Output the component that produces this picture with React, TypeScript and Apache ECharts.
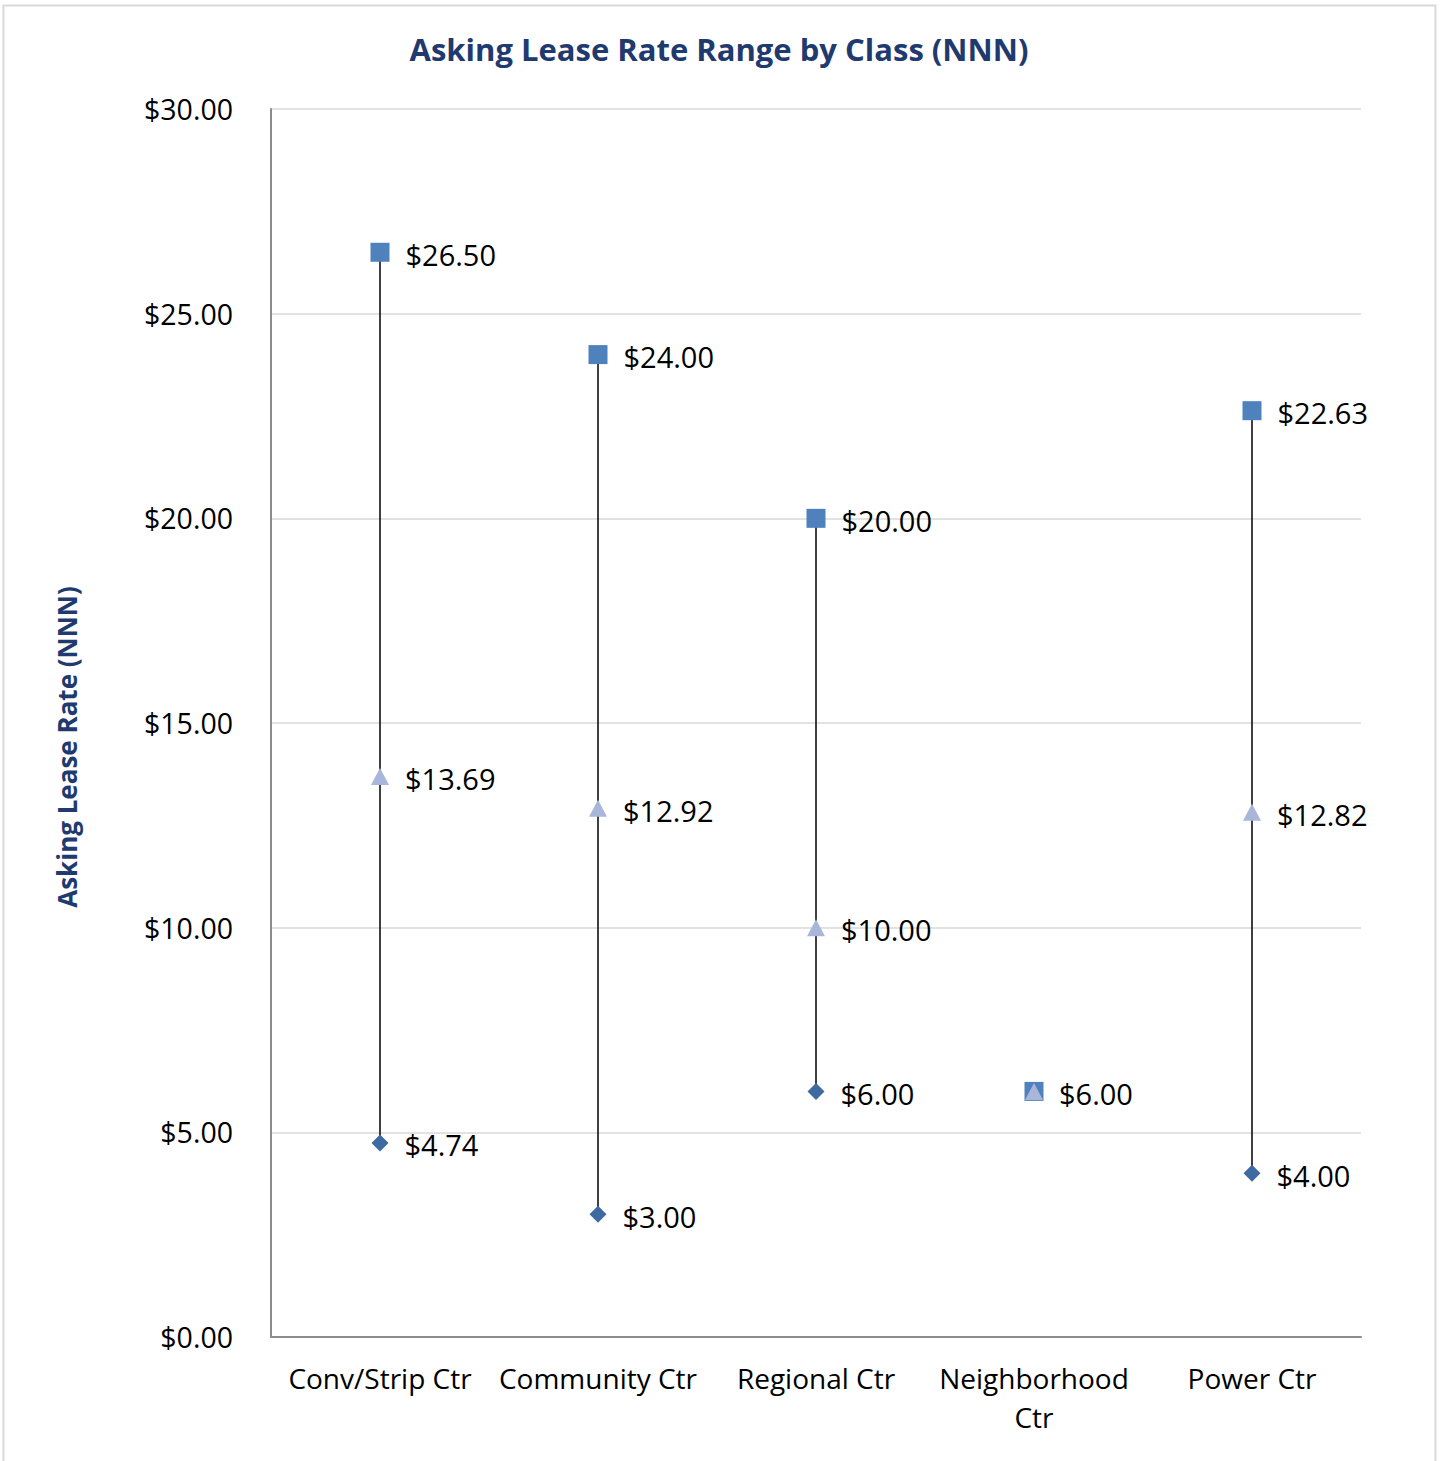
import React, { useEffect, useRef } from "react";
import * as echarts from "echarts";

const categories = ["Conv/Strip Ctr", "Community Ctr", "Regional Ctr", "Neighborhood\nCtr", "Power Ctr"];
const highValues = [26.5, 24.0, 20.0, 6.0, 22.63];
const midValues = [13.69, 12.92, 10.0, 6.0, 12.82];
const lowValues = [4.74, 3.0, 6.0, 6.0, 4.0];
const hideLabelAt = [3]; // Neighborhood: single label shown (by mid series)

const FONT = "'Open Sans', 'Noto Sans', sans-serif";
const NAVY = "#1F3A6E";

export default function App() {
  const ref = useRef<HTMLDivElement>(null);
  useEffect(() => {
    if (!ref.current) return;
    const chart = echarts.init(ref.current, undefined, { renderer: "svg" });
    const fmt = (p: any) => "$" + Number(Array.isArray(p.value) ? p.value[1] : p.value).toFixed(2);
    const labelBase = {
      show: true,
      position: "right",
      distance: 16,
      offset: [0, 2],
      fontFamily: FONT,
      fontSize: 29,
      color: "#000",
      formatter: fmt,
    };
    const mkData = (vals: number[], hide: boolean) =>
      vals.map((v, i) => (hide && hideLabelAt.includes(i) ? { value: v, label: { show: false } } : { value: v }));

    chart.setOption({
      animation: false,
      textStyle: { fontFamily: FONT },
      graphic: [
        {
          type: "rect",
          shape: { x: 3.5, y: 5.5, width: 1432, height: 1500 },
          style: { fill: "none", stroke: "#D9D9D9", lineWidth: 2 },
          silent: true,
        },
        {
          type: "text",
          x: 719,
          y: 49,
          style: {
            text: "Asking Lease Rate Range by Class (NNN)",
            fontFamily: FONT,
            fontSize: 31,
            fontWeight: "bold",
            fill: NAVY,
            textAlign: "center",
            textVerticalAlign: "middle",
          },
        },
        {
          type: "text",
          x: 67,
          y: 747,
          rotation: Math.PI / 2,
          style: {
            text: "Asking Lease Rate (NNN)",
            fontFamily: FONT,
            fontSize: 26,
            fontWeight: "bold",
            fill: NAVY,
            textAlign: "center",
            textVerticalAlign: "middle",
          },
        },
      ],
      grid: { left: 271, right: 79, top: 109, bottom: 124, containLabel: false },
      xAxis: {
        type: "category",
        data: categories,
        boundaryGap: true,
        axisLine: { show: true, lineStyle: { color: "#8C8C8C", width: 2 } },
        axisTick: { show: false },
        axisLabel: {
          fontFamily: FONT,
          fontSize: 28,
          color: "#000",
          margin: 21,
          lineHeight: 39,
          interval: 0,
        },
      },
      yAxis: {
        type: "value",
        min: 0,
        max: 30,
        interval: 5,
        axisLine: { show: true, lineStyle: { color: "#8C8C8C", width: 2 } },
        axisTick: { show: false },
        splitLine: { lineStyle: { color: "#D9D9D9", width: 1.5 } },
        axisLabel: {
          fontFamily: FONT,
          fontSize: 28.5,
          color: "#000",
          margin: 38,
          formatter: (v: number) => "$" + v.toFixed(2),
        },
      },
      series: [
        {
          type: "custom",
          name: "range",
          z: 1,
          silent: true,
          data: categories.map((_, i) => [i, lowValues[i], highValues[i]]),
          encode: { x: 0, y: [1, 2] },
          renderItem: (params: any, api: any) => {
            const p1 = api.coord([api.value(0), api.value(1)]);
            const p2 = api.coord([api.value(0), api.value(2)]);
            return {
              type: "line",
              shape: { x1: p1[0], y1: p1[1], x2: p2[0], y2: p2[1] },
              style: { stroke: "#000", lineWidth: 1.5 },
            };
          },
        },
        {
          type: "line",
          name: "Low",
          z: 2,
          data: mkData(lowValues, true),
          lineStyle: { opacity: 0 },
          symbol: "diamond",
          symbolSize: [17, 17],
          itemStyle: { color: "#3F6AA1" },
          label: labelBase,
        },
        {
          type: "line",
          name: "High",
          z: 3,
          data: mkData(highValues, true),
          lineStyle: { opacity: 0 },
          symbol: "rect",
          symbolSize: [19, 19],
          itemStyle: { color: "#4F81BD" },
          label: labelBase,
        },
        {
          type: "line",
          name: "Mid",
          z: 4,
          data: mkData(midValues, false),
          lineStyle: { opacity: 0 },
          symbol: "triangle",
          symbolSize: [18, 17],
          itemStyle: { color: "#A7B6D9" },
          label: labelBase,
        },
      ],
    });
    return () => chart.dispose();
  }, []);
  return (
    <div
      ref={ref}
      style={{ position: "absolute", left: 0, top: 0, width: 1440, height: 1461, background: "#fff" }}
    />
  );
}
